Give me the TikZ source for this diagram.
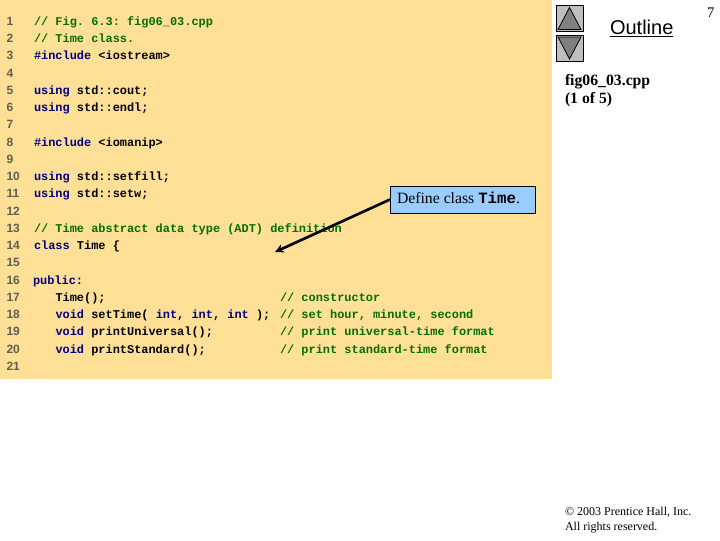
\documentclass[tikz,border=0pt]{standalone}
\usepackage{fontspec}
\setmainfont{Liberation Serif}
\setsansfont{Liberation Sans}
\setmonofont{Liberation Mono}
\usetikzlibrary{arrows.meta,calc}
\definecolor{panelcol}{HTML}{FFE096}
\definecolor{notecol}{HTML}{99CCFF}
\definecolor{kwcol}{HTML}{000080}
\definecolor{cmcol}{HTML}{006F00}
\definecolor{numcol}{HTML}{5F5F4F}
\newcommand{\kw}[1]{\textcolor{kwcol}{#1}}
\newcommand{\cm}[1]{\textcolor{cmcol}{#1}}

\begin{document}
\begin{tikzpicture}[
x=0.75pt,
y=-0.75pt,
every node/.style={inner sep=0pt,outer sep=0pt},
num node/.style={anchor=base west,
								text=numcol,
								font=\sffamily\bfseries\fontsize{9}{9}\selectfont},
code node/.style={anchor=base west,
								font=\ttfamily\bfseries\fontsize{8.95}{9}\selectfont},
side node/.style={anchor=base west,
								font=\bfseries\fontsize{11.8}{12}\selectfont},
small node/.style={anchor=base west,
								font=\fontsize{9}{9}\selectfont},
btn node/.style={draw=black,fill=black!25,line width=0.75pt,
								minimum width=20.25pt,minimum height=19.5pt}]
\useasboundingbox (0,0) rectangle (720,540);
%panel
  \node[fill=panelcol,anchor=north west,minimum width=414pt,minimum height=284.25pt] (panel) at (0,0) {};
%line numbers
  \foreach \n in {1,...,21}
    \node[num node] (n\n) at (6.5,25.3+17.25*\n-17.25) {\n};
%code
  \node[code node] (c1) at (34,25.3) {\cm{// Fig. 6.3: fig06\_03.cpp}};
  \node[code node] (c2) at (34,42.5) {\cm{// Time class.}};
  \node[code node] (c3) at (34,59.8) {\kw{\#include} <iostream>};
  \node[code node] (c5) at (34,94.3) {\kw{using} std::cout;};
  \node[code node] (c6) at (34,111.5) {\kw{using} std::endl;};
  \node[code node] (c8) at (34,146) {\kw{\#include} <iomanip>};
  \node[code node] (c10) at (34,180.5) {\kw{using} std::setfill;};
  \node[code node] (c11) at (34,197.8) {\kw{using} std::setw;};
  \node[code node] (c13) at (34,232.3) {\cm{// Time abstract data type (ADT) definition}};
  \node[code node] (c14) at (34,249.5) {\kw{class} Time \{};
  \node[code node] (c16) at (33,284) {\kw{public}:};
  \node[code node] (c17) at (55.5,301.3) {Time();};
  \node[code node] (c18) at (55.5,318.5) {\kw{void} setTime( \kw{int}, \kw{int}, \kw{int} );};
  \node[code node] (c19) at (55.5,335.8) {\kw{void} printUniversal();};
  \node[code node] (c20) at (55.5,353) {\kw{void} printStandard();};
%comments
  \node[code node] (d17) at (280,301.3) {\cm{// constructor}};
  \node[code node] (d18) at (280,318.5) {\cm{// set hour, minute, second}};
  \node[code node] (d19) at (280,335.8) {\cm{// print universal-time format}};
  \node[code node] (d20) at (280,353) {\cm{// print standard-time format}};
%note
  \coordinate (tip) at (275,252);
  \node[draw=black,fill=notecol,line width=0.5pt,anchor=north west,minimum width=108.75pt,minimum height=20.25pt] (note) at (390,186) {};
  \node[anchor=base west,font=\fontsize{11.8}{12}\selectfont] (notetext) at (397,203.5) {Define class \texttt{\bfseries Time}.};
  \draw[-{Stealth[length=6.5pt,width=6.5pt]},line width=2pt] (note.west) -- (tip);
%buttons
  \node[btn node,anchor=north west] (up) at (556,5.5) {};
  \node[btn node,anchor=north west] (down) at (556,35) {};
  \draw[fill=black!50,line width=0.6pt] ($(up.south west)+(2,-2)$) -- ($(up.north)+(0,2)$) -- ($(up.south east)+(-2,-2)$) -- cycle;
  \draw[fill=black!50,line width=0.6pt] ($(down.north west)+(2,2)$) -- ($(down.south)+(0,-2)$) -- ($(down.north east)+(-2,2)$) -- cycle;
%side
  \node[anchor=base west,font=\sffamily\fontsize{15}{15}\selectfont] (outline) at (610,34) {\underline{Outline}};
  \node[side node] (file) at (565,85) {fig06\_03.cpp};
  \node[side node] (part) at (565,103) {(1 of 5)};
  \node[anchor=base west,font=\fontsize{11}{11}\selectfont] (page) at (707,17) {7};
  \node[small node] (copy) at (565,515) {© 2003 Prentice Hall, Inc.};
  \node[small node] (rights) at (565,530) {All rights reserved.};
\end{tikzpicture}
\end{document}
